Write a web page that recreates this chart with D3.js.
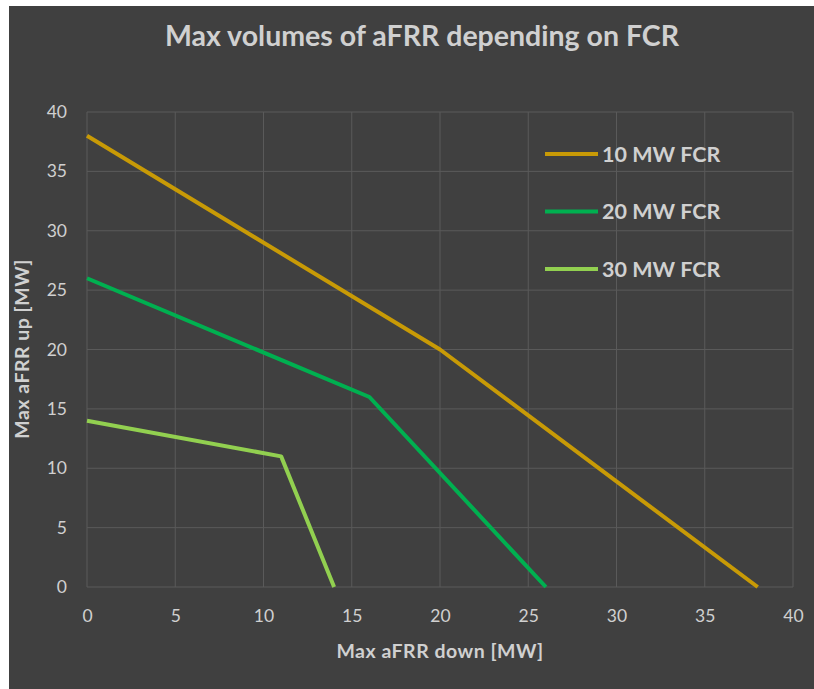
<!DOCTYPE html>
<html>
<head>
<meta charset="utf-8">
<script src="https://cdn.jsdelivr.net/npm/d3@7"></script>
<style>
  html, body { margin: 0; padding: 0; background: #ffffff; }
  svg { display: block; }
</style>
</head>
<body>
<div id="chart"></div>
<script>
// Series: max aFRR down (x) vs max aFRR up (y) for each FCR level
const seriesNames = ["10 MW FCR", "20 MW FCR", "30 MW FCR"];
const seriesColors = ["#c89a06", "#00b050", "#92d050"];
const downValues = [
  [0, 20, 38],
  [0, 16, 26],
  [0, 11, 14]
];
const upValues = [
  [38, 20, 0],
  [26, 16, 0],
  [14, 11, 0]
];
const xTicks = [0, 5, 10, 15, 20, 25, 30, 35, 40];
const yTicks = [0, 5, 10, 15, 20, 25, 30, 35, 40];

const W = 814, H = 689;
const margin = { left: 87, right: 21, top: 112, bottom: 102 };
const font = "Lato, 'Open Sans', sans-serif";
const textColor = "#d0d0d0";

const svg = d3.select("#chart").append("svg")
  .attr("width", W).attr("height", H);

// chart panel
svg.append("rect")
  .attr("x", 9).attr("y", 6)
  .attr("width", W - 9).attr("height", H - 6)
  .attr("fill", "#404040");

const x = d3.scaleLinear().domain([0, 40]).range([margin.left, W - margin.right]);
const y = d3.scaleLinear().domain([0, 40]).range([H - margin.bottom, margin.top]);

// gridlines
const grid = svg.append("g");
grid.selectAll(".vgrid").data(xTicks).join("line")
  .attr("x1", d => x(d)).attr("x2", d => x(d))
  .attr("y1", y(0)).attr("y2", y(40))
  .attr("stroke", "#5a5a5a").attr("stroke-width", 1);
grid.selectAll(".hgrid").data(yTicks).join("line")
  .attr("x1", x(0)).attr("x2", x(40))
  .attr("y1", d => y(d)).attr("y2", d => y(d))
  .attr("stroke", "#5a5a5a").attr("stroke-width", 1);

// axes (labels only)
const xAxis = svg.append("g")
  .attr("transform", `translate(0,${y(0)})`)
  .call(d3.axisBottom(x).tickValues(xTicks).tickSize(0).tickPadding(23));
const yAxis = svg.append("g")
  .attr("transform", `translate(${x(0)},0)`)
  .call(d3.axisLeft(y).tickValues(yTicks).tickSize(0).tickPadding(20));
[xAxis, yAxis].forEach(g => {
  g.select(".domain").remove();
  g.selectAll("text")
    .attr("fill", textColor)
    .style("font-family", font)
    .style("font-size", "17.5px");
});

// lines
const lineGen = d3.line().x(d => x(d[0])).y(d => y(d[1]));
seriesNames.forEach((name, i) => {
  const pts = downValues[i].map((v, j) => [v, upValues[i][j]]);
  svg.append("path")
    .datum(pts)
    .attr("d", lineGen)
    .attr("fill", "none")
    .attr("stroke", seriesColors[i])
    .attr("stroke-width", 4)
    .attr("stroke-linejoin", "round");
});

// legend
const legend = svg.append("g").attr("transform", "translate(545,154)");
seriesNames.forEach((name, i) => {
  const g = legend.append("g").attr("transform", `translate(0,${i * 57.5})`);
  g.append("line")
    .attr("x1", 0).attr("x2", 53)
    .attr("stroke", seriesColors[i]).attr("stroke-width", 4);
  g.append("text")
    .attr("x", 57).attr("y", 7.5)
    .attr("fill", textColor)
    .style("font-family", font)
    .style("font-size", "21.5px")
    .style("font-weight", "bold")
    .text(name);
});

// title
svg.append("text")
  .attr("x", 422).attr("y", 46)
  .attr("text-anchor", "middle")
  .attr("fill", textColor)
  .style("font-family", font)
  .style("font-size", "28.5px")
  .style("font-weight", "bold")
  .text("Max volumes of aFRR depending on FCR");

// axis titles
svg.append("text")
  .attr("x", 440).attr("y", 658)
  .attr("text-anchor", "middle")
  .attr("fill", textColor)
  .style("font-family", font)
  .style("font-size", "19.5px")
  .style("font-weight", "bold")
  .style("letter-spacing", "0.5px")
  .text("Max aFRR down [MW]");

svg.append("text")
  .attr("transform", "translate(29,349) rotate(-90)")
  .attr("text-anchor", "middle")
  .attr("fill", textColor)
  .style("font-family", font)
  .style("font-size", "19.5px")
  .style("font-weight", "bold")
  .style("letter-spacing", "0.5px")
  .text("Max aFRR up [MW]");
</script>
</body>
</html>
